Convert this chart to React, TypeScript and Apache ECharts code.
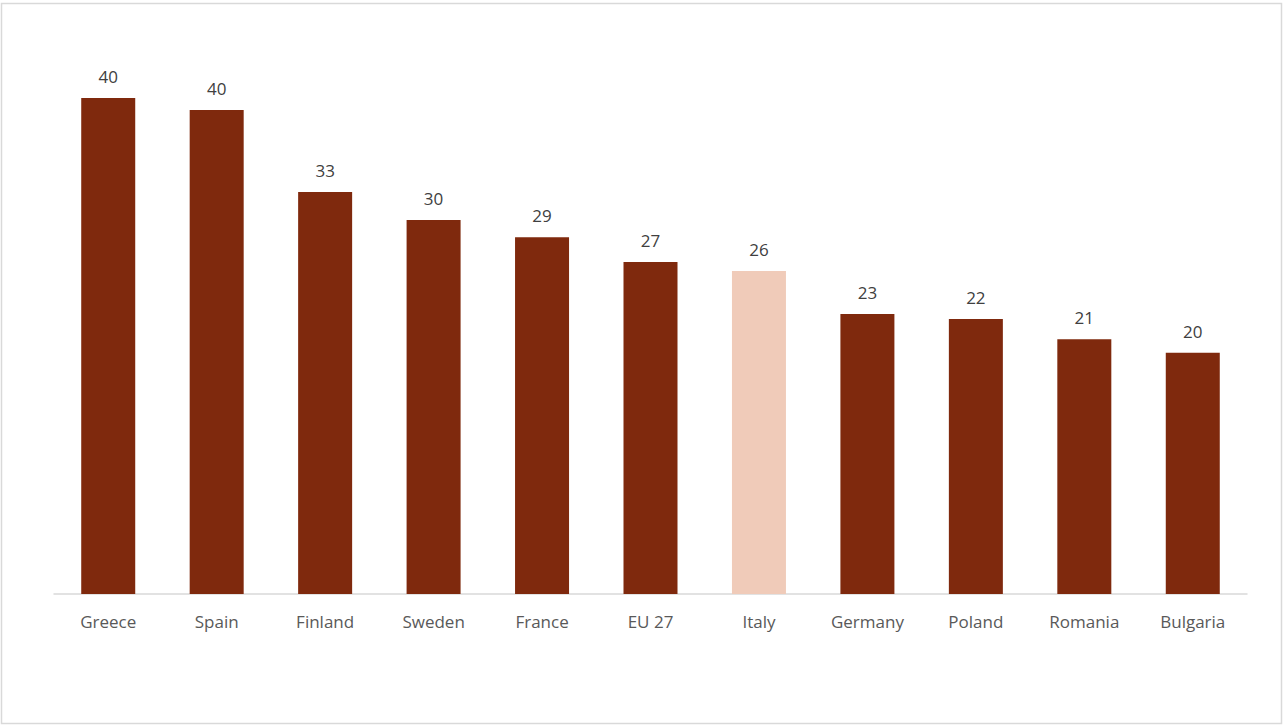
import React, { useEffect, useRef } from "react";
import * as echarts from "echarts";

const categories = ["Greece", "Spain", "Finland", "Sweden", "France", "EU 27", "Italy", "Germany", "Poland", "Romania", "Bulgaria"];
const values = [40.66, 39.67, 32.95, 30.66, 29.24, 27.21, 26.48, 22.95, 22.54, 20.88, 19.78];
const valueLabels = ["40", "40", "33", "30", "29", "27", "26", "23", "22", "21", "20"];
const highlight = "Italy";

export default function App() {
  const ref = useRef<HTMLDivElement>(null);
  useEffect(() => {
    if (!ref.current) return;
    const chart = echarts.init(ref.current, null, { renderer: "svg" });
    chart.setOption({
      animation: false,
      backgroundColor: "#ffffff",
      graphic: [
        {
          type: "rect",
          shape: { x: 1.5, y: 3.5, width: 1280, height: 720 },
          style: { fill: "none", stroke: "#d9d9d9", lineWidth: 1.5 },
          silent: true,
        },
      ],
      grid: { left: 54, right: 36, top: 45, bottom: 131, containLabel: false },
      xAxis: {
        type: "category",
        data: categories,
        axisLine: { lineStyle: { color: "#d9d9d9", width: 1.5 } },
        axisTick: { show: false },
        axisLabel: {
          color: "#595959",
          fontFamily: "Open Sans",
          fontSize: 17,
          margin: 19,
          interval: 0,
        },
      },
      yAxis: {
        type: "value",
        min: 0,
        max: 45,
        show: false,
        splitLine: { show: false },
      },
      series: [
        {
          type: "bar",
          data: values.map((v, i) => ({
            value: v,
            itemStyle: { color: categories[i] === highlight ? "#f0cbb9" : "#7f290d" },
          })),
          barWidth: 54,
          label: {
            show: true,
            position: "top",
            distance: 13,
            color: "#404040",
            fontFamily: "Open Sans",
            fontSize: 17,
            formatter: (p: any) => valueLabels[p.dataIndex],
          },
        },
      ],
    });
    return () => chart.dispose();
  }, []);
  return (
    <div
      ref={ref}
      style={{ position: "fixed", left: 0, top: 0, width: 1283, height: 725 }}
    />
  );
}
